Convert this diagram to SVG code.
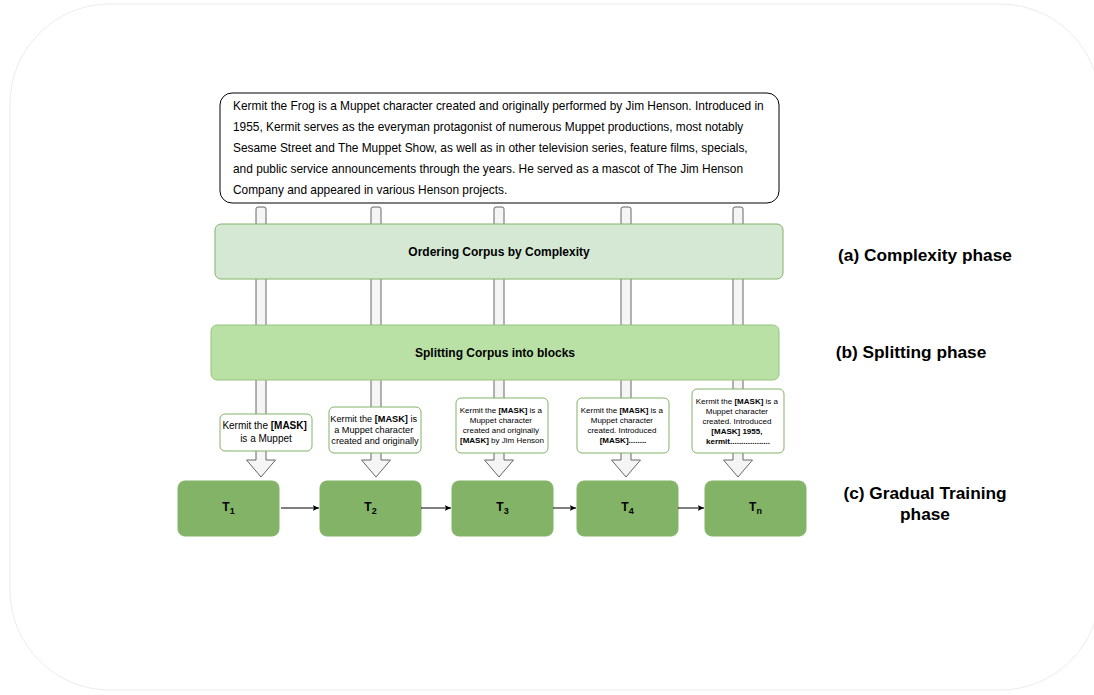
<svg xmlns="http://www.w3.org/2000/svg" width="1094" height="695" viewBox="0 0 1094 695">
<defs>
<style>
.txt{font-family:"Liberation Sans",Arial,sans-serif;fill:#000}
.b{font-weight:bold}
.shaft{fill:#f5f5f5;stroke:#666;stroke-width:1}
.lbl{fill:#fff;stroke:#82b366;stroke-width:1}
.t{fill:#82b366;stroke:#82b366;stroke-width:1}
.conn{stroke:#000;stroke-width:1;fill:none}
</style>
<marker id="ah" viewBox="0 0 10 10" refX="9" refY="5" markerWidth="7" markerHeight="7" orient="auto" markerUnits="userSpaceOnUse">
<path d="M0,1 L9,5 L0,9 L2,5 Z" fill="#000"/>
</marker>
</defs>
<rect x="0" y="0" width="1094" height="695" fill="#fff"/>
<rect x="10" y="4" width="1090" height="686" rx="100" ry="100" fill="#fff" stroke="#ececec" stroke-width="1"/>

<g id="flow-arrows">
<path class="shaft" d="M256,209 Q256,207 258,207 L264,207 Q266,207 266,209 L266,460 L275.5,460 L261,477 L246.5,460 L256,460 Z"/>
<path class="shaft" d="M371,209 Q371,207 373,207 L379,207 Q381,207 381,209 L381,460 L390.5,460 L376,477 L361.5,460 L371,460 Z"/>
<path class="shaft" d="M494,209 Q494,207 496,207 L502,207 Q504,207 504,209 L504,460 L513.5,460 L499,477 L484.5,460 L494,460 Z"/>
<path class="shaft" d="M621,209 Q621,207 623,207 L629,207 Q631,207 631,209 L631,460 L640.5,460 L626,477 L611.5,460 L621,460 Z"/>
<path class="shaft" d="M733,209 Q733,207 735,207 L741,207 Q743,207 743,209 L743,460 L752.5,460 L738,477 L723.5,460 L733,460 Z"/>
</g>

<g id="corpus">
<rect x="220" y="93" width="559" height="110" rx="12" ry="12" fill="#fff" stroke="#000" stroke-width="1"/>
<text class="txt" font-size="11.9">
<tspan x="233" y="110">Kermit the Frog is a Muppet character created and originally performed by Jim Henson. Introduced in</tspan>
<tspan x="233" y="131">1955, Kermit serves as the everyman protagonist of numerous Muppet productions, most notably</tspan>
<tspan x="233" y="152">Sesame Street and The Muppet Show, as well as in other television series, feature films, specials,</tspan>
<tspan x="233" y="173">and public service announcements through the years. He served as a mascot of The Jim Henson</tspan>
<tspan x="233" y="194">Company and appeared in various Henson projects.</tspan>
</text>
</g>

<g id="ordering">
<rect x="215" y="224" width="568" height="55" rx="6" ry="6" fill="#d5e8d4" stroke="#82b366" stroke-width="1"/>
<text class="txt b" font-size="12" x="499" y="256" text-anchor="middle">Ordering Corpus by Complexity</text>
</g>

<g id="splitting">
<rect x="211" y="325" width="568" height="55" rx="6" ry="6" fill="#b9e0a5" stroke="#97c47e" stroke-width="1"/>
<text class="txt b" font-size="12" x="495" y="357" text-anchor="middle">Splitting Corpus into blocks</text>
</g>

<g id="block1">
<rect class="lbl" x="220" y="414" width="92" height="37" rx="5" ry="5"/>
<text class="txt" font-size="10" text-anchor="middle">
<tspan x="266" y="429">Kermit the <tspan class="b">[MASK]</tspan></tspan>
<tspan x="266" y="442">is a Muppet</tspan>
</text>
</g>

<g id="block2">
<rect class="lbl" x="329" y="407" width="92" height="46" rx="5" ry="5"/>
<text class="txt" font-size="9.2" text-anchor="middle">
<tspan x="375" y="422">Kermit the <tspan class="b">[MASK]</tspan> is</tspan>
<tspan x="375" y="433">a Muppet character</tspan>
<tspan x="375" y="444">created and originally</tspan>
</text>
</g>

<g id="block3">
<rect class="lbl" x="456" y="398" width="92" height="55" rx="5" ry="5"/>
<text class="txt" font-size="8" text-anchor="middle">
<tspan x="502" y="413">Kermit the <tspan class="b">[MASK]</tspan> is a</tspan>
<tspan x="502" y="423">Muppet character</tspan>
<tspan x="502" y="433">created and originally</tspan>
<tspan x="502" y="443"><tspan class="b">[MASK]</tspan> by Jim Henson</tspan>
</text>
</g>

<g id="block4">
<rect class="lbl" x="577" y="398" width="92" height="55" rx="5" ry="5"/>
<text class="txt" font-size="8" text-anchor="middle">
<tspan x="623" y="413">Kermit the <tspan class="b">[MASK]</tspan> is a</tspan>
<tspan x="623" y="423">Muppet character</tspan>
<tspan x="623" y="433">created. Introduced</tspan>
<tspan x="623" y="443" class="b">[MASK]........</tspan>
</text>
</g>

<g id="block5">
<rect class="lbl" x="692" y="389" width="92" height="64" rx="5" ry="5"/>
<text class="txt" font-size="8" text-anchor="middle">
<tspan x="738" y="404">Kermit the <tspan class="b">[MASK]</tspan> is a</tspan>
<tspan x="738" y="414">Muppet character</tspan>
<tspan x="738" y="424">created. Introduced</tspan>
<tspan x="738" y="434" class="b">[MASK] 1955,</tspan>
<tspan x="738" y="444" class="b">kermit..................</tspan>
</text>
</g>

<g id="T1">
<rect class="t" x="178" y="481" width="101" height="55" rx="7" ry="7"/>
<text class="txt b" font-size="12" x="228.5" y="511" text-anchor="middle">T<tspan font-size="9" dy="3">1</tspan></text>
</g>
<g id="T2">
<rect class="t" x="320" y="481" width="101" height="55" rx="7" ry="7"/>
<text class="txt b" font-size="12" x="370.5" y="511" text-anchor="middle">T<tspan font-size="9" dy="3">2</tspan></text>
</g>
<g id="T3">
<rect class="t" x="452" y="481" width="101" height="55" rx="7" ry="7"/>
<text class="txt b" font-size="12" x="502.5" y="511" text-anchor="middle">T<tspan font-size="9" dy="3">3</tspan></text>
</g>
<g id="T4">
<rect class="t" x="577" y="481" width="101" height="55" rx="7" ry="7"/>
<text class="txt b" font-size="12" x="627.5" y="511" text-anchor="middle">T<tspan font-size="9" dy="3">4</tspan></text>
</g>
<g id="Tn">
<rect class="t" x="705" y="481" width="101" height="55" rx="7" ry="7"/>
<text class="txt b" font-size="12" x="755.5" y="511" text-anchor="middle">T<tspan font-size="9" dy="3">n</tspan></text>
</g>

<g id="connectors">
<line class="conn" x1="281" y1="508" x2="319" y2="508" marker-end="url(#ah)"/>
<line class="conn" x1="421" y1="508" x2="451" y2="508" marker-end="url(#ah)"/>
<line class="conn" x1="553" y1="508" x2="576" y2="508" marker-end="url(#ah)"/>
<line class="conn" x1="678" y1="508" x2="704" y2="508" marker-end="url(#ah)"/>
</g>

<g id="phase-labels">
<text class="txt b" font-size="17.3" x="925" y="261" text-anchor="middle">(a) Complexity phase</text>
<text class="txt b" font-size="17.3" x="911" y="358" text-anchor="middle">(b) Splitting phase</text>
<text class="txt b" font-size="17.3" text-anchor="middle"><tspan x="925" y="499">(c) Gradual Training</tspan><tspan x="925" y="520">phase</tspan></text>
</g>
</svg>
